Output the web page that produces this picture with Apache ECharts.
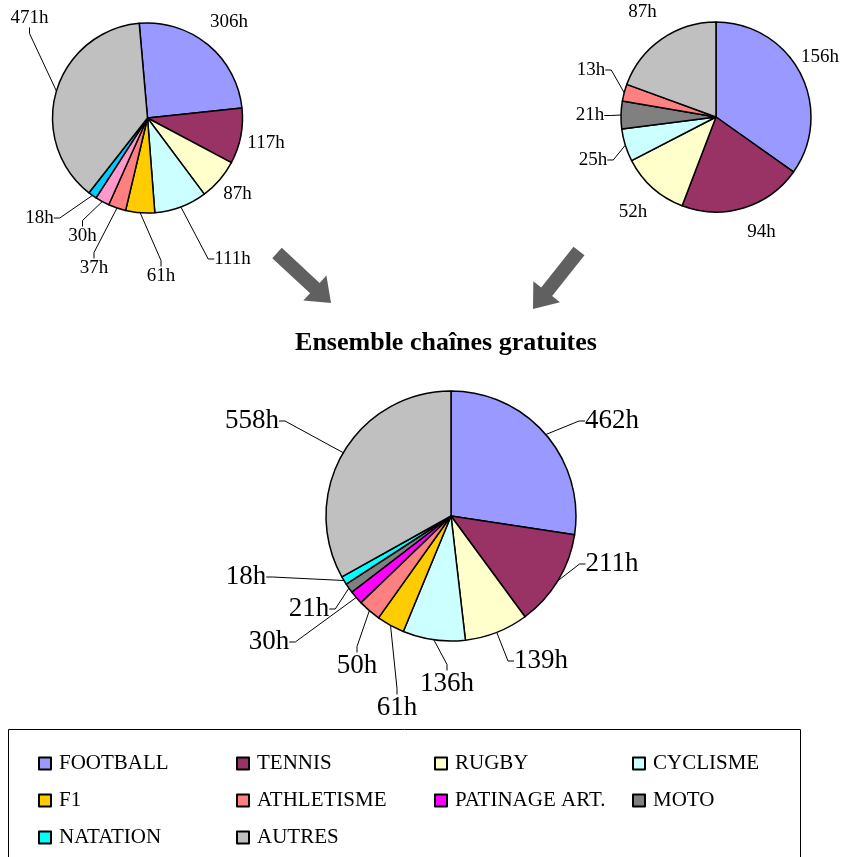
<!DOCTYPE html>
<html>
<head>
<meta charset="utf-8">
<script src="https://cdn.jsdelivr.net/npm/echarts@6/dist/echarts.min.js"></script>
<style>
  html, body { margin: 0; padding: 0; background: #fff; }
  #chart { width: 846px; height: 857px; }
</style>
</head>
<body>
<div id="chart"></div>
<script>
// Hours of sport broadcast, by discipline
const categories = ['FOOTBALL', 'TENNIS', 'RUGBY', 'CYCLISME', 'F1', 'ATHLETISME', 'PATINAGE ART.', 'MOTO', 'NATATION', 'AUTRES'];
const totalHours = [462, 211, 139, 136, 61, 50, 30, 21, 18, 558];

const leftNames = ['FOOTBALL', 'TENNIS', 'RUGBY', 'CYCLISME', 'F1', 'ATHLETISME', 'PATINAGE ART.', 'NATATION', 'AUTRES'];
const leftHours = [306, 117, 87, 111, 61, 37, 30, 18, 471];

const rightNames = ['FOOTBALL', 'TENNIS', 'RUGBY', 'CYCLISME', 'MOTO', 'ATHLETISME', 'AUTRES'];
const rightHours = [156, 94, 52, 25, 21, 13, 87];

const titleText = 'Ensemble chaînes gratuites';

// Slice colours
const palette = {
  'FOOTBALL': '#9999FF', 'TENNIS': '#993366', 'RUGBY': '#FFFFCC', 'CYCLISME': '#CCFFFF',
  'F1': '#FFCC00', 'ATHLETISME': '#FF8080', 'PATINAGE ART.': '#FF00FF', 'MOTO': '#808080',
  'NATATION': '#00FFFF', 'AUTRES': '#C0C0C0'
};
const leftPalette = Object.assign({}, palette, { 'PATINAGE ART.': '#FF99CC', 'NATATION': '#00CCFF' });

const FONT = "'Liberation Serif', 'Times New Roman', serif";

// Pie geometry and where each value label sits, relative to the pie centre
const pies = {
  total: {
    center: [451, 516], radius: 125, startAngle: 90, fontSize: 27,
    labelAt: {
      'FOOTBALL': [161, -95], 'TENNIS': [161, 48], 'RUGBY': [90, 145], 'CYCLISME': [-4, 168],
      'F1': [-54, 192], 'ATHLETISME': [-94, 150], 'PATINAGE ART.': [-182, 126], 'MOTO': [-142, 93],
      'NATATION': [-205, 61], 'AUTRES': [-199, -95]
    },
    noLine: []
  },
  left: {
    center: [147.5, 118], radius: 95, startAngle: 95, fontSize: 19,
    labelAt: {
      'FOOTBALL': [81.5, -96], 'TENNIS': [118.5, 25], 'RUGBY': [90, 76], 'CYCLISME': [85, 141],
      'F1': [13.5, 158], 'ATHLETISME': [-53.5, 150], 'PATINAGE ART.': [-65, 118],
      'NATATION': [-108, 100], 'AUTRES': [-118, -100]
    },
    noLine: ['FOOTBALL', 'TENNIS', 'RUGBY']
  },
  right: {
    center: [716, 117], radius: 95, startAngle: 90, fontSize: 19,
    labelAt: {
      'FOOTBALL': [104, -60], 'TENNIS': [45.5, 115.5], 'RUGBY': [-83, 95], 'CYCLISME': [-123, 43],
      'MOTO': [-126, -1.5], 'ATHLETISME': [-125, -47], 'AUTRES': [-73.5, -104.5]
    },
    noLine: ['FOOTBALL', 'TENNIS', 'RUGBY', 'AUTRES']
  }
};

function pieSeries(key, names, values, colors) {
  const cfg = pies[key];
  return {
    type: 'pie',
    id: key,
    center: cfg.center,
    radius: cfg.radius,
    startAngle: cfg.startAngle,
    clockwise: true,
    avoidLabelOverlap: false,
    animation: false,
    silent: true,
    itemStyle: { borderColor: '#000', borderWidth: 1.5 },
    label: {
      show: true,
      position: 'outside',
      formatter: '{c}h',
      color: '#000',
      fontFamily: FONT,
      fontSize: cfg.fontSize
    },
    labelLine: {
      show: true,
      length: 8,
      length2: 6,
      smooth: false,
      lineStyle: { color: '#000', width: 1 }
    },
    labelLayout: function (params) {
      const name = names[params.dataIndex];
      const off = cfg.labelAt[name];
      return {
        x: cfg.center[0] + off[0],
        y: cfg.center[1] + off[1],
        align: 'center',
        verticalAlign: 'middle'
      };
    },
    data: names.map(function (n, i) {
      const item = { name: n, value: values[i], itemStyle: { color: colors[n] } };
      if (cfg.noLine.indexOf(n) >= 0) item.labelLine = { show: false };
      return item;
    })
  };
}

// Thick block arrow from tail to tip
function arrow(tail, tip, shaftW, headW, headL, color) {
  const dx = tip[0] - tail[0], dy = tip[1] - tail[1];
  const len = Math.sqrt(dx * dx + dy * dy);
  const ux = dx / len, uy = dy / len;
  const nx = -uy, ny = ux;
  const bx = tip[0] - ux * headL, by = tip[1] - uy * headL;
  const pts = [
    [tail[0] + nx * shaftW / 2, tail[1] + ny * shaftW / 2],
    [bx + nx * shaftW / 2, by + ny * shaftW / 2],
    [bx + nx * headW / 2, by + ny * headW / 2],
    [tip[0], tip[1]],
    [bx - nx * headW / 2, by - ny * headW / 2],
    [bx - nx * shaftW / 2, by - ny * shaftW / 2],
    [tail[0] - nx * shaftW / 2, tail[1] - ny * shaftW / 2]
  ];
  return { type: 'polygon', silent: true, shape: { points: pts }, style: { fill: color } };
}

const chart = echarts.init(document.getElementById('chart'), null, { renderer: 'canvas' });

chart.setOption({
  backgroundColor: '#fff',
  animation: false,
  legend: {
    data: categories,
    left: 38,
    top: 750,
    width: 790,
    padding: 0,
    orient: 'horizontal',
    icon: 'rect',
    itemWidth: 12,
    itemHeight: 12,
    itemGap: 10,
    selectedMode: false,
    itemStyle: { borderColor: '#000', borderWidth: 2 },
    textStyle: {
      fontFamily: FONT,
      fontSize: 21,
      color: '#000',
      width: 167,
      lineHeight: 27,
      padding: [0, 0, 0, 3]
    }
  },
  graphic: [
    arrow([277, 253], [331, 303], 14, 34, 22, '#606060'),
    arrow([579, 251], [533, 309], 14, 34, 22, '#606060'),
    {
      type: 'text',
      silent: true,
      x: 446,
      y: 343,
      style: {
        text: titleText,
        fontFamily: FONT,
        fontSize: 26,
        fontWeight: 'bold',
        fill: '#000',
        align: 'center',
        verticalAlign: 'middle'
      }
    },
    {
      type: 'rect',
      silent: true,
      z: -1,
      shape: { x: 8.5, y: 729.5, width: 792, height: 140 },
      style: { fill: 'none', stroke: '#000', lineWidth: 1 }
    }
  ],
  series: [
    pieSeries('total', categories, totalHours, palette),
    pieSeries('left', leftNames, leftHours, leftPalette),
    pieSeries('right', rightNames, rightHours, palette)
  ]
});
</script>
</body>
</html>
